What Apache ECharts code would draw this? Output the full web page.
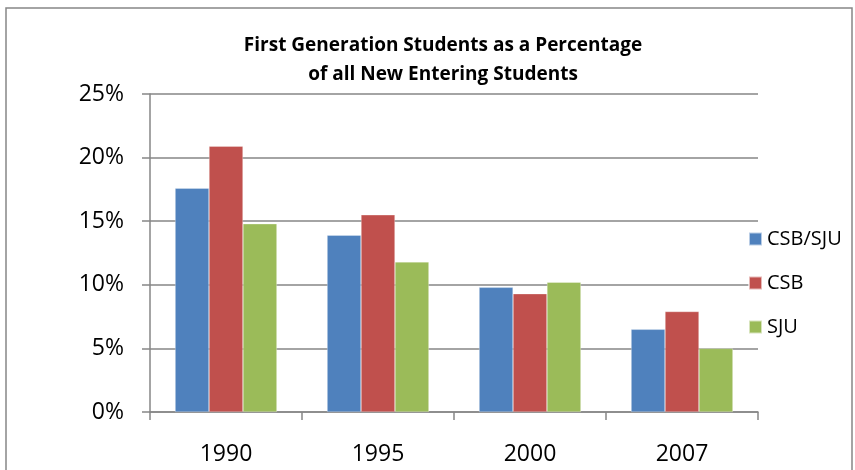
<!DOCTYPE html>
<html><head><meta charset="utf-8">
<script src="https://cdn.jsdelivr.net/npm/echarts@6/dist/echarts.min.js"></script>
<style>html,body{margin:0;padding:0;background:#fff}#c{width:855px;height:470px}</style>
</head><body><div id="c"></div>
<script>
const categories = ['1990', '1995', '2000', '2007'];
const seriesNames = ['CSB/SJU', 'CSB', 'SJU'];
const csbSju = [17.6, 13.9, 9.8, 6.5];
const csb = [20.9, 15.5, 9.3, 7.9];
const sju = [14.8, 11.8, 10.2, 5.0];
const colors = ['#4F81BD', '#C0504D', '#9BBB59'];
const values = [csbSju, csb, sju];
const font = '"Open Sans", "Noto Sans", sans-serif';

const chart = echarts.init(document.getElementById('c'), null, {renderer: 'canvas'});
chart.setOption({
  animation: false,
  backgroundColor: '#fff',
  title: {
    text: 'First Generation Students as a Percentage\nof all New Entering Students',
    left: 438, textAlign: 'center', top: 26,
    textStyle: {fontFamily: font, fontWeight: 'bold', fontSize: 19, lineHeight: 29, color: '#000'}
  },
  graphic: [{
    type: 'rect', shape: {x: 6, y: 8, width: 846, height: 470},
    style: {fill: 'none', stroke: '#868686', lineWidth: 1.5}, silent: true
  }],
  legend: {
    orient: 'vertical', left: 743, top: 224, itemGap: 24,
    itemWidth: 13, itemHeight: 13, icon: 'rect',
    textStyle: {fontFamily: font, fontSize: 20, color: '#000'},
    data: seriesNames
  },
  grid: {left: 150, right: 97, top: 94, bottom: 58, containLabel: false},
  xAxis: {
    type: 'category', data: categories,
    axisLine: {lineStyle: {color: '#868686', width: 1.5}},
    axisTick: {show: true, length: 8, alignWithLabel: false, lineStyle: {color: '#868686', width: 1.5}},
    axisLabel: {fontFamily: font, fontSize: 23, color: '#000', margin: 31}
  },
  yAxis: {
    type: 'value', min: 0, max: 25, interval: 5,
    axisLine: {show: true, lineStyle: {color: '#868686', width: 1.5}},
    axisTick: {show: true, length: 8, lineStyle: {color: '#868686', width: 1.5}},
    splitLine: {lineStyle: {color: '#868686', width: 1.5}},
    axisLabel: {fontFamily: font, fontSize: 23, color: '#000', margin: 26, formatter: v => v + '%'}
  },
  series: seriesNames.map((n, i) => ({
    name: n, type: 'bar', data: values[i],
    barGap: '0%', barCategoryGap: '33%',
    itemStyle: {color: colors[i], borderColor: 'rgba(255,255,255,0.6)', borderWidth: 0.5}
  }))
});
</script></body></html>
